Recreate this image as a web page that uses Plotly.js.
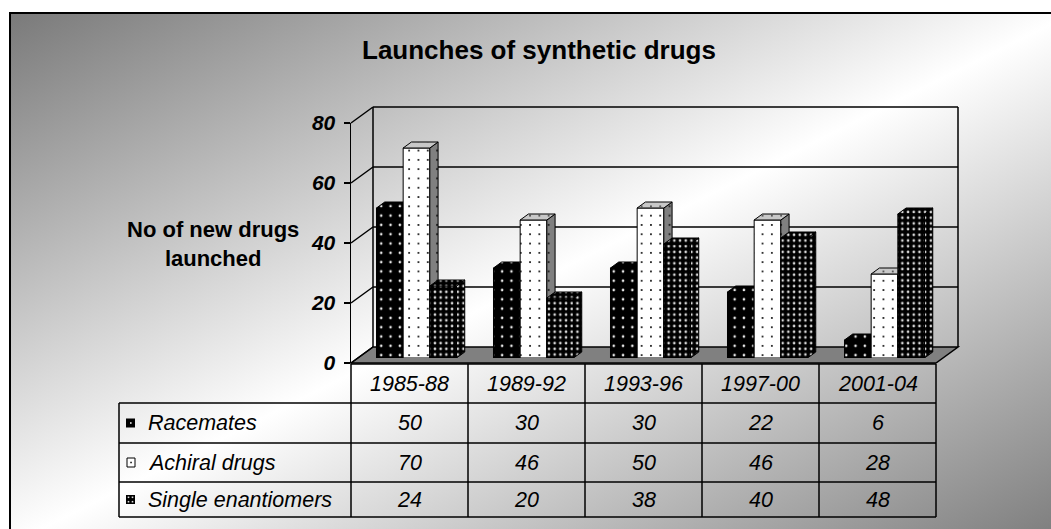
<!DOCTYPE html>
<html><head><meta charset="utf-8">
<script src="https://cdn.plot.ly/plotly-3.0.1.min.js"></script>
<style>
html,body{margin:0;padding:0;background:#fff;overflow:hidden;}
#wrap{position:relative;width:1051px;height:529px;overflow:hidden;}
#bg{position:absolute;left:9px;top:12px;width:1060px;height:530px;border-left:2px solid #000;border-top:2px solid #000;
background:linear-gradient(to bottom right,#7a7a7a 0%,#ffffff 50%,#7a7a7a 100%);}
#chart{position:absolute;left:0;top:0;width:1051px;height:529px;}
</style></head><body>
<div id="wrap"><div id="bg"></div><div id="chart"></div></div>
<script>
// ---- data ----
const categories = ['1985-88', '1989-92', '1993-96', '1997-00', '2001-04'];
const seriesNames = ['Racemates', 'Achiral drugs', 'Single enantiomers'];
const racemates = [50, 30, 30, 22, 6];
const achiral = [70, 46, 50, 46, 28];
const enantiomers = [24, 20, 38, 40, 48];
const tickValues = [0, 20, 40, 60, 80];
const tickLabels = ['0', '20', '40', '60', '80'];
const chartTitle = 'Launches of synthetic drugs';
const yTitle = 'No of new drugs<br>launched';

// ---- geometry (pixels) ----
const W = 1051, H = 529;
const px = x => x / W, py = y => 1 - y / H;
const FX0 = 351, FY0 = 363, CW = 117, NC = categories.length, FX1 = FX0 + CW * NC;
const SC = 3;               // px per unit
const DX = 22, DY = -16;    // floor depth
const BX0 = FX0 + 7, BY0 = FY0 - 5, BX1 = BX0 + CW * NC;
const DXU = 8.25 / CW, DYU = 6 / SC;   // bar depth in data units
const BW = 0.228;
const offsets = [-0.342, -0.114, 0.114];
const FONT = 'Liberation Sans, Arial, sans-serif';

const allSeries = [racemates, achiral, enantiomers];
const styles = [
  {front: {bg: '#000', fg: '#e8e8e8', size: 9.3, sol: 0.06}, side: {bg: '#000', fg: '#e8e8e8', size: 9.3, sol: 0.06}, top: {bg: '#000', fg: '#e8e8e8', size: 9.3, sol: 0.06}},
  {front: {bg: '#fff', fg: '#000', size: 9.3, sol: 0.035}, side: {bg: '#808080', fg: '#222', size: 9.3, sol: 0.04}, top: {bg: '#c8c8c8', fg: '#333', size: 9.3, sol: 0.03}},
  {front: {bg: '#000', fg: '#d8d8d8', size: 5.7, sol: 0.17}, side: {bg: '#000', fg: '#d8d8d8', size: 5.7, sol: 0.17}, top: {bg: '#000', fg: '#d8d8d8', size: 5.7, sol: 0.17}}
];
const pat = s => ({shape: '.', bgcolor: s.bg, fgcolor: s.fg, size: s.size, solidity: s.sol, fillmode: 'replace'});

const traces = [];
allSeries.forEach((vals, i) => {
  const ax = i === 0 ? '' : String(i + 1);
  const xs = categories.map((c, j) => j);
  traces.push({
    type: 'bar', x: xs, y: vals, width: BW, offset: offsets[i], name: seriesNames[i],
    xaxis: 'x' + ax, yaxis: 'y' + ax,
    marker: {color: styles[i].front.bg, pattern: pat(styles[i].front), line: {color: '#000', width: 1}},
    hoverinfo: 'skip'
  });
  const sx = [], sy = [], tx = [], ty = [];
  vals.forEach((v, j) => {
    const xl = j + offsets[i], xr = xl + BW;
    sx.push(xr, xr + DXU, xr + DXU, xr, xr, null);
    sy.push(0, DYU, v + DYU, v, 0, null);
    tx.push(xl, xl + DXU, xr + DXU, xr, xl, null);
    ty.push(v, v + DYU, v + DYU, v, v, null);
  });
  traces.push({type: 'scatter', mode: 'lines', x: sx, y: sy, fill: 'toself', xaxis: 'x' + ax, yaxis: 'y' + ax,
    fillcolor: styles[i].side.bg, fillpattern: pat(styles[i].side), line: {color: '#000', width: 1}, hoverinfo: 'skip'});
  traces.push({type: 'scatter', mode: 'lines', x: tx, y: ty, fill: 'toself', xaxis: 'x' + ax, yaxis: 'y' + ax,
    fillcolor: styles[i].top.bg, fillpattern: pat(styles[i].top), line: {color: '#000', width: 1}, hoverinfo: 'skip'});
});
traces.push({type: 'scatter', x: [null], y: [null], xaxis: 'x4', yaxis: 'y4', hoverinfo: 'skip'});

// ---- shapes ----
const shapes = [];
const L = (x0, y0, x1, y1, w, layer) => shapes.push({type: 'line', xref: 'paper', yref: 'paper',
  x0: px(x0), y0: py(y0), x1: px(x1), y1: py(y1), line: {color: '#000', width: w || 1.5}, layer: layer || 'above'});
// floor
shapes.push({type: 'path', xref: 'paper', yref: 'paper', layer: 'below',
  path: `M${px(FX0)},${py(FY0)} L${px(FX0 + DX)},${py(FY0 + DY)} L${px(FX1 + DX)},${py(FY0 + DY)} L${px(FX1)},${py(FY0)} Z`,
  fillcolor: '#808080', line: {color: '#000', width: 1.5}});
// walls & gridlines
tickValues.forEach(v => {
  if (v > 0) L(FX0 + DX, FY0 + DY - SC * v, FX1 + DX, FY0 + DY - SC * v, 1.5, 'below');
  L(FX0, FY0 - SC * v, FX0 + DX, FY0 + DY - SC * v, 1.5, 'below');
});
const vmax = tickValues[tickValues.length - 1];
L(FX0 + DX, FY0 + DY, FX0 + DX, FY0 + DY - SC * vmax, 1.5, 'below');
L(FX1 + DX, FY0 + DY, FX1 + DX, FY0 + DY - SC * vmax, 1.5, 'below');

// table
const TL = 119, HT = 364, rowLines = [403, 443, 482, 517];
L(FX0, HT, FX1, HT);
rowLines.forEach(y => L(TL, y, FX1, y));
L(TL, rowLines[0], TL, rowLines[rowLines.length - 1]);
for (let k = 0; k <= NC; k++) L(FX0 + CW * k, HT, FX0 + CW * k, rowLines[rowLines.length - 1]);

// legend keys
const rowC = [0, 1, 2].map(r => (rowLines[r] + rowLines[r + 1]) / 2);
const rect = (x0, y0, x1, y1, fill, lc) => shapes.push({type: 'rect', xref: 'paper', yref: 'paper',
  x0: px(x0), y0: py(y0), x1: px(x1), y1: py(y1), fillcolor: fill, line: {color: lc || fill, width: lc ? 1 : 0}});
rect(126, rowC[0] - 4.5, 135, rowC[0] + 4.5, '#000');
rect(130, rowC[0] - 0.8, 131.6, rowC[0] + 0.8, '#fff');
rect(127, rowC[1] - 4.5, 135, rowC[1] + 4.5, '#fff', '#000');
rect(130.3, rowC[1] - 0.8, 131.8, rowC[1] + 0.8, '#000');
rect(126, rowC[2] - 4.5, 135, rowC[2] + 4.5, '#000');
[[128.5, -2.2], [132.5, -2.2], [128.5, 2.2], [132.5, 2.2]].forEach(([x, d]) =>
  rect(x - 0.8, rowC[2] + d - 0.8, x + 0.8, rowC[2] + d + 0.8, '#ddd'));

// ---- annotations ----
const tfont = {family: FONT, size: 21.5, color: '#000', style: 'italic'};
const ann = [];
categories.forEach((c, k) => ann.push({xref: 'paper', yref: 'paper', x: px(FX0 + CW * (k + 0.5)), y: py((HT + rowLines[0]) / 2),
  text: c, showarrow: false, xanchor: 'center', yanchor: 'middle', font: tfont}));
allSeries.forEach((vals, r) => {
  ann.push({xref: 'paper', yref: 'paper', x: px(146), y: py(rowC[r]), text: seriesNames[r], showarrow: false,
    xanchor: 'left', yanchor: 'middle', font: tfont});
  vals.forEach((v, k) => ann.push({xref: 'paper', yref: 'paper', x: px(FX0 + CW * (k + 0.5)), y: py(rowC[r]),
    text: String(v), showarrow: false, xanchor: 'center', yanchor: 'middle', font: tfont}));
});
ann.push({xref: 'paper', yref: 'paper', x: px(213), y: py(244), text: yTitle, showarrow: false,
  xanchor: 'center', yanchor: 'middle', align: 'center', font: {family: FONT, size: 22, color: '#000', weight: 'bold'}});

const hid = {visible: false, fixedrange: true};
const xr = [-0.5, NC - 0.5], yr = [0, vmax];
const layout = {
  width: W, height: H, margin: {l: 0, r: 0, t: 0, b: 0, pad: 0},
  paper_bgcolor: 'rgba(0,0,0,0)', plot_bgcolor: 'rgba(0,0,0,0)',
  showlegend: false, barmode: 'overlay',
  title: {text: chartTitle, x: px(539), y: py(50), xanchor: 'center', yanchor: 'middle',
    font: {family: FONT, size: 26, color: '#000', weight: 'bold'}},
  xaxis: Object.assign({domain: [px(BX0), px(BX1)], range: xr, anchor: 'y'}, hid),
  yaxis: Object.assign({domain: [py(BY0), py(BY0 - SC * vmax)], range: yr, anchor: 'x'}, hid),
  xaxis2: Object.assign({overlaying: 'x', range: xr, anchor: 'y2'}, hid),
  yaxis2: Object.assign({overlaying: 'y', range: yr, anchor: 'x2'}, hid),
  xaxis3: Object.assign({overlaying: 'x', range: xr, anchor: 'y3'}, hid),
  yaxis3: Object.assign({overlaying: 'y', range: yr, anchor: 'x3'}, hid),
  xaxis4: Object.assign({domain: [px(FX0), px(FX1)], range: [0, 1], anchor: 'y4'}, hid),
  yaxis4: {domain: [py(FY0), py(FY0 - SC * vmax)], range: yr, anchor: 'x4', fixedrange: true,
    showline: true, linecolor: '#000', linewidth: 1.5, ticks: 'outside', ticklen: 6, tickwidth: 1.5, tickcolor: '#000',
    tickmode: 'array', tickvals: tickValues, ticktext: tickLabels, showgrid: false, zeroline: false,
    ticklabelstandoff: 4,
    tickfont: {family: FONT, size: 21, color: '#000', weight: 'bold', style: 'italic'}},
  shapes: shapes, annotations: ann
};
Plotly.newPlot('chart', traces, layout, {staticPlot: true, displayModeBar: false});
</script></body></html>
